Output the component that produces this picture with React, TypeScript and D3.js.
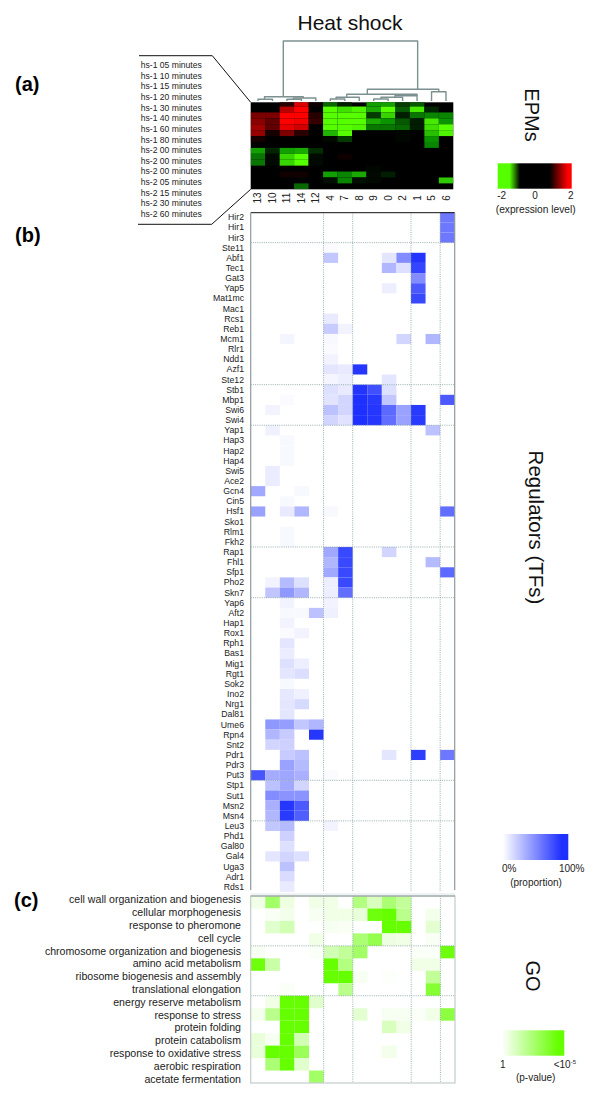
import React from "react";
import * as d3 from "d3";

const clusters = ["13", "10", "11", "14", "12", "4", "7", "8", "9", "0", "2", "1", "5", "6"];
const timeLabels = [
  "hs-1 05 minutes", "hs-1 10 minutes", "hs-1 15 minutes", "hs-1 20 minutes", "hs-1 30 minutes",
  "hs-1 40 minutes", "hs-1 60 minutes", "hs-1 80 minutes", "hs-2 00 minutes", "hs-2 00 minutes",
  "hs-2 00 minutes", "hs-2 05 minutes", "hs-2 15 minutes", "hs-2 30 minutes", "hs-2 60 minutes",
];
// expression level: + red, - green
const expression = [
  [0, 0, 0.3, 1.7, 0.1, -0.7, -0.2, 0, -1.1, -1.1, -0.4, -0.6, 0, 0],
  [0, 0, 1.4, 2, 0, -2, -1.7, -1.9, -1.2, -2, -0.6, -1.8, -0.24, 0],
  [0.9, 0.9, 2, 2, 0.3, -2, -2, -2, -0.4, -1.6, -0.2, -0.8, -0.9, -0.9],
  [1, 0.7, 2, 1.9, 0.4, -2, -2, -2, -1.2, -1, -0.6, -0.2, -1.8, -1],
  [1.2, 0.7, 1.8, 1.6, 0, -2, -2, -1.9, -0.8, -0.8, -0.7, -0.2, -1.7, -2],
  [1.1, 0.16, 0.9, 0.3, 0, -1.3, -2, 0, 0, 0, -0.05, 0, -1.4, -1.9],
  [0.16, 0, 0, 0, 0, -0.06, -0.4, 0, 0, 0, -0.05, 0, -1, 0],
  [0, 0, 0, 0, 0, 0, 0, 0, 0, 0, 0, 0, -0.9, 0],
  [-1.1, -0.24, -1.1, -1.2, -0.3, 0, 0, 0, 0, 0, 0, 0, 0, 0],
  [-0.8, -0.06, -1.6, -2, -0.06, 0, 0.1, 0, 0, 0, 0, 0, 0, 0],
  [-0.8, -0.06, -1.6, -2, -0.06, 0, 0, 0, 0, 0, 0, 0, 0, 0],
  [0, 0, 0, 0, 0, 0, 0, 0, -0.04, 0, 0, 0, 0, 0],
  [0, 0, 0.12, 0.12, 0, -1.1, -0.9, -1.2, -0.06, -0.2, 0, 0, 0, 0],
  [0, 0, 0, 0, 0, -0.1, -0.9, -0.1, -0.06, 0, 0, 0, 0, -1.5],
  [0, 0, 0, -0.7, 0, 0, 0, 0, 0, 0, 0, 0, 0, 0],
];
const regulators = [
  "Hir2", "Hir1", "Hir3", "Ste11", "Abf1", "Tec1", "Gat3", "Yap5", "Mat1mc", "Mac1", "Rcs1", "Reb1", "Mcm1", "Rlr1",
  "Ndd1", "Azf1", "Ste12", "Stb1", "Mbp1", "Swi6", "Swi4", "Yap1", "Hap3", "Hap2", "Hap4", "Swi5", "Ace2", "Gcn4",
  "Cin5", "Hsf1", "Sko1", "Rlm1", "Fkh2", "Rap1", "Fhl1", "Sfp1", "Pho2", "Skn7", "Yap6", "Aft2", "Hap1", "Rox1",
  "Rph1", "Bas1", "Mig1", "Rgt1", "Sok2", "Ino2", "Nrg1", "Dal81", "Ume6", "Rpn4", "Snt2", "Pdr1", "Pdr3", "Put3",
  "Stp1", "Sut1", "Msn2", "Msn4", "Leu3", "Phd1", "Gal80", "Gal4", "Uga3", "Adr1", "Rds1",
];
const regulatorValues = [
  [0, 0, 0, 0, 0, 0, 0, 0, 0, 0, 0, 0, 0, .65],
  [0, 0, 0, 0, 0, 0, 0, 0, 0, 0, 0, 0, 0, .65],
  [0, 0, 0, 0, 0, 0, 0, 0, 0, 0, 0, 0, 0, .65],
  [0, 0, 0, 0, 0, .02, 0, 0, 0, 0, 0, 0, 0, 0],
  [0, 0, 0, 0, 0, .27, 0, 0, 0, .12, .55, .98, 0, 0],
  [0, 0, 0, 0, 0, 0, 0, 0, 0, .35, .15, .9, 0, 0],
  [0, 0, 0, 0, 0, 0, 0, 0, 0, 0, 0, .55, 0, 0],
  [0, 0, 0, 0, 0, 0, 0, 0, 0, .08, 0, .8, 0, 0],
  [0, 0, 0, 0, 0, 0, 0, 0, 0, 0, 0, .88, 0, 0],
  [0, 0, 0, 0, 0, 0, 0, 0, 0, 0, 0, 0, 0, 0],
  [0, 0, 0, 0, 0, .1, 0, 0, 0, 0, 0, 0, 0, 0],
  [0, 0, 0, 0, 0, .25, .06, 0, 0, 0, 0, 0, 0, 0],
  [0, 0, .05, 0, 0, .03, 0, 0, 0, 0, .2, 0, .35, 0],
  [0, 0, 0, 0, 0, .02, 0, 0, 0, 0, 0, 0, 0, 0],
  [0, 0, 0, 0, 0, .06, 0, 0, 0, 0, 0, 0, 0, 0],
  [0, 0, 0, 0, 0, .12, .1, .97, 0, 0, 0, 0, 0, 0],
  [0, 0, 0, 0, 0, .05, .08, 0, 0, .12, 0, 0, 0, 0],
  [0, 0, 0, 0, 0, .15, .1, .98, .85, .15, 0, 0, 0, 0],
  [0, 0, .02, 0, 0, .13, .2, 1, .95, .27, 0, 0, 0, .8],
  [0, .06, 0, 0, 0, .3, .2, 1, .97, .72, .45, .95, 0, 0],
  [0, 0, 0, 0, 0, .2, .14, 1, .97, .7, .45, .95, 0, 0],
  [0, .07, 0, 0, 0, 0, 0, 0, 0, 0, 0, 0, .3, 0],
  [0, 0, .03, 0, 0, 0, 0, 0, 0, 0, 0, 0, 0, 0],
  [0, 0, .03, 0, 0, 0, 0, 0, 0, 0, 0, 0, 0, 0],
  [0, 0, .03, 0, 0, 0, 0, 0, 0, 0, 0, 0, 0, 0],
  [0, .09, 0, 0, 0, 0, 0, 0, 0, 0, 0, 0, 0, 0],
  [0, .09, 0, 0, 0, 0, 0, 0, 0, 0, 0, 0, 0, 0],
  [.42, 0, 0, .03, 0, 0, 0, 0, 0, 0, 0, 0, 0, 0],
  [0, 0, .03, 0, 0, 0, 0, 0, 0, 0, 0, 0, 0, 0],
  [.45, 0, .1, .35, 0, .03, 0, 0, 0, 0, 0, 0, 0, .7],
  [0, 0, 0, 0, 0, 0, 0, 0, 0, 0, 0, 0, 0, 0],
  [0, 0, .03, 0, 0, 0, 0, 0, 0, 0, 0, 0, 0, 0],
  [0, 0, .03, 0, 0, 0, 0, 0, 0, 0, 0, 0, 0, 0],
  [0, 0, 0, 0, 0, .42, .88, 0, 0, .2, 0, 0, 0, 0],
  [0, 0, 0, 0, 0, .35, .88, 0, 0, 0, 0, 0, .33, 0],
  [0, 0, 0, 0, 0, .42, .88, 0, 0, 0, 0, 0, 0, .72],
  [0, .06, .33, .15, 0, .08, .88, 0, 0, 0, 0, 0, 0, 0],
  [0, .28, .5, .35, 0, .08, .7, 0, 0, 0, 0, 0, 0, 0],
  [0, 0, .06, 0, 0, .06, 0, 0, 0, 0, 0, 0, 0, 0],
  [0, 0, .03, .03, .3, .07, 0, 0, 0, 0, 0, 0, 0, 0],
  [0, 0, .06, 0, 0, 0, 0, 0, 0, 0, 0, 0, 0, 0],
  [0, 0, .02, .06, 0, 0, 0, 0, 0, 0, 0, 0, 0, 0],
  [0, 0, .12, 0, 0, 0, 0, 0, 0, 0, 0, 0, 0, 0],
  [0, 0, .09, 0, 0, 0, 0, 0, 0, 0, 0, 0, 0, 0],
  [0, 0, .15, .08, 0, 0, 0, 0, 0, 0, 0, 0, 0, 0],
  [0, 0, .12, .16, 0, 0, 0, 0, 0, 0, 0, 0, 0, 0],
  [0, 0, .03, 0, 0, 0, 0, 0, 0, 0, 0, 0, 0, 0],
  [0, 0, .11, .07, 0, 0, 0, 0, 0, 0, 0, 0, 0, 0],
  [0, 0, .12, .18, 0, 0, 0, 0, 0, 0, 0, 0, 0, 0],
  [0, 0, .12, 0, 0, 0, 0, 0, 0, 0, 0, 0, 0, 0],
  [0, .5, .47, .27, .35, 0, 0, 0, 0, 0, 0, 0, 0, 0],
  [0, .35, .25, 0, .97, 0, 0, 0, 0, 0, 0, 0, 0, 0],
  [0, .2, .22, 0, 0, 0, 0, 0, 0, 0, 0, 0, 0, 0],
  [0, 0, .25, .3, 0, 0, 0, 0, 0, .12, 0, .93, 0, .65],
  [0, 0, .45, .33, 0, 0, 0, 0, 0, 0, 0, 0, 0, 0],
  [.82, .4, .43, .38, 0, .02, 0, 0, 0, 0, 0, 0, 0, 0],
  [0, .3, .42, .2, 0, 0, 0, 0, 0, 0, 0, 0, 0, 0],
  [0, .55, .52, .52, 0, 0, 0, 0, 0, 0, 0, 0, 0, 0],
  [0, .38, .97, .8, 0, 0, 0, 0, 0, 0, 0, 0, 0, 0],
  [0, .35, .95, .78, 0, 0, 0, 0, 0, 0, 0, 0, 0, 0],
  [0, .27, .33, 0, 0, .06, 0, 0, 0, 0, 0, 0, 0, 0],
  [0, 0, .22, 0, 0, 0, 0, 0, 0, 0, 0, 0, 0, 0],
  [0, 0, .15, 0, 0, 0, 0, 0, 0, 0, 0, 0, 0, 0],
  [0, .12, .2, .15, 0, 0, 0, 0, 0, 0, 0, 0, 0, 0],
  [0, 0, .3, 0, 0, 0, 0, 0, 0, 0, 0, 0, 0, 0],
  [0, 0, .17, 0, 0, 0, 0, 0, 0, 0, 0, 0, 0, 0],
  [0, 0, .1, 0, 0, 0, 0, 0, 0, 0, 0, 0, 0, 0],
];
const goTerms = [
  "cell wall organization and biogenesis", "cellular morphogenesis", "response to pheromone", "cell cycle",
  "chromosome organization and biogenesis", "amino acid metabolism", "ribosome biogenesis and assembly",
  "translational elongation", "energy reserve metabolism", "response to stress", "protein folding",
  "protein catabolism", "response to oxidative stress", "aerobic respiration", "acetate fermentation",
];
const goValues = [
  [.1, .6, .12, 0, .1, .1, 0, .5, .25, .55, .4, 0, 0, 0],
  [0, .04, .08, 0, .05, .1, .1, .15, .95, 1, .45, 0, .08, 0],
  [0, .2, .3, 0, 0, .05, .04, 0, 0, 1, 1, 0, .18, 0],
  [0, 0, 0, 0, .1, 0, 0, .55, .7, .12, .1, 0, .04, 0],
  [.05, 0, 0, 0, .03, .3, .4, .6, 0, 0, 0, .03, .03, .95],
  [.95, .35, 0, 0, 0, 1, .5, 0, 0, 0, 0, .1, .1, 0],
  [0, 0, 0, 0, 0, 1, 1, .05, 0, .02, 0, 0, .4, 0],
  [0, 0, .03, 0, 0, 0, .45, 0, 0, 0, 0, 0, .8, 0],
  [0, .1, 1, 1, .2, 0, 0, 0, 0, 0, 0, 0, 0, 0],
  [.07, .45, 1, 1, 0, 0, 0, .18, 0, .05, .05, .03, .1, .75],
  [0, 0, 1, 1, 0, 0, 0, 0, 0, .25, .1, 0, 0, 0],
  [.15, .05, 1, .3, 0, 0, 0, 0, 0, 0, 0, 0, 0, 0],
  [.15, 1, 1, .65, 0, 0, 0, 0, 0, .08, 0, 0, 0, 0],
  [0, .55, 1, .2, 0, 0, 0, 0, 0, 0, 0, 0, 0, 0],
  [0, 0, 0, 0, .6, 0, 0, 0, 0, 0, 0, 0, 0, 0],
];
const clusterBreaks = [5, 7, 11, 13];
const regulatorBreaks = [3, 17, 21, 33, 38, 56, 60];
const goBreaks = [4, 8];

type Node = { pos: number; h: number; children?: Node[] };
const leaf = (pos: number): Node => ({ pos, h: 0 });
// pos: where the node meets its parent, along the cluster columns; h: merge height
const dendrogram: Node = {
  pos: 7, h: 60, children: [
    {
      pos: 1.75, h: 4.3, children: [
        { pos: 0.45, h: 1.7, children: [leaf(0), leaf(1)] },
        { pos: 3.13, h: 3, children: [{ pos: 2.45, h: 1.7, children: [leaf(2), leaf(3)] }, leaf(4)] },
      ],
    },
    {
      pos: 11.04, h: 11.7, children: [
        {
          pos: 7.56, h: 6.7, children: [
            { pos: 6.14, h: 3.7, children: [{ pos: 5.4, h: 2, children: [leaf(5), leaf(6)] }, leaf(7)] },
            {
              pos: 11, h: 5.3, children: [
                { pos: 9.47, h: 3.7, children: [{ pos: 8.5, h: 2, children: [leaf(8), leaf(9)] }, leaf(10)] },
                leaf(11),
              ],
            },
          ],
        },
        { pos: 12.5, h: 9.3, children: [leaf(12), leaf(13)] },
      ],
    },
  ],
};

const F = "'Liberation Sans', Arial, sans-serif";
const INK = "#222";
const DOT = "#7f9a9a";

const heatX = d3.scaleBand<number>().domain(d3.range(14)).range([250.7, 453.3]);
const heatY = d3.scaleBand<number>().domain(d3.range(15)).range([100.6, 189.3]);
const regX = d3.scaleBand<number>().domain(d3.range(14)).range([250.7, 454.7]);
const regY = d3.scaleBand<number>().domain(d3.range(67)).range([212.2, 891.9]);
const goX = d3.scaleBand<number>().domain(d3.range(14)).range([250.7, 455]);
const goY = d3.scaleBand<number>().domain(d3.range(15)).range([896, 1083]);
const goLabelY = d3.scalePoint<number>().domain(d3.range(15)).range([899.3, 1078.7]);
const timeY = d3.scalePoint<number>().domain(d3.range(15)).range([65, 214]);
const dendX = d3.scaleLinear().domain([0, 13]).range([258, 446]);
const dendY = d3.scaleLinear().domain([0, 60]).range([101, 41]);

const exprColor = d3
  .scaleLinear<string>()
  .domain([-2, -1, 0, 1, 2])
  .range(["#55ff00", "#0a9400", "#000000", "#8a0000", "#ff0000"])
  .clamp(true);
const blueColor = d3.scaleLinear<string>().domain([0, 1]).range(["#ffffff", "#1e30ff"]);
const greenColor = d3.scaleLinear<string>().domain([0, 1]).range(["#ffffff", "#66ff00"]);

function Cells({ values, x, y, color }: any) {
  return (
    <g>
      {values.flatMap((row: number[], r: number) =>
        row.map((v, c) =>
          v === 0 ? null : (
            <rect key={r + "-" + c} x={x(c)} y={y(r)} width={x.bandwidth()} height={y.bandwidth()} fill={color(v)} />
          )
        )
      )}
    </g>
  );
}

function Breaks({ x, y, breaks }: any) {
  const [x0, x1] = x.range();
  const [y0, y1] = y.range();
  return (
    <g stroke={DOT} strokeWidth={0.8} strokeDasharray="1 1.2" fill="none">
      {clusterBreaks.map((b) => (
        <line key={"v" + b} x1={x(b)} x2={x(b)} y1={y0} y2={y1} />
      ))}
      {breaks.map((b: number) => (
        <line key={"h" + b} x1={x0} x2={x1} y1={y(b)} y2={y(b)} />
      ))}
    </g>
  );
}

function Dendrogram() {
  const root = d3.hierarchy(dendrogram);
  const parents = root.descendants().filter((n) => n.children);
  return (
    <g stroke="#7c9090" strokeWidth={1.4} fill="none" strokeLinejoin="round">
      {parents.map((n, i) => {
        const [a, b] = n.children!;
        const top = dendY(n.data.h);
        return (
          <path
            key={i}
            d={`M${dendX(a.data.pos)},${dendY(a.data.h)}V${top}H${dendX(b.data.pos)}V${dendY(b.data.h)}`}
          />
        );
      })}
    </g>
  );
}

const SideTitle = ({ x, y, text, size = 20 }: { x: number; y: number; text: string; size?: number }) => (
  <text transform={`translate(${x},${y}) rotate(90)`} textAnchor="middle" fontSize={size} fill="#111" dominantBaseline="central">
    {text}
  </text>
);

export default function App() {
  const exprStops = [-2, -1.35, -0.8, 0.8, 1.8, 2];
  const legendStop = (v: number) =>
    v <= -1.35 ? "#55ff00" : v === -0.8 || v === 0.8 ? "#000000" : "#ff0000";
  return (
    <svg
      width={600}
      height={1099}
      viewBox="0 0 600 1099"
      style={{ position: "absolute", left: 0, top: 0, display: "block", background: "#fff" }}
      fontFamily={F}
    >
      <defs>
        <linearGradient id="exprGrad">
          {exprStops.map((v) => (
            <stop key={v} offset={(v + 2) / 4} stopColor={legendStop(v)} />
          ))}
        </linearGradient>
        <linearGradient id="blueGrad">
          <stop offset={0.03} stopColor={blueColor(0)} />
          <stop offset={0.9} stopColor={blueColor(1)} />
        </linearGradient>
        <linearGradient id="greenGrad">
          <stop offset={0} stopColor={greenColor(0)} />
          <stop offset={0.9} stopColor={greenColor(1)} />
        </linearGradient>
        <clipPath id="heatClip">
          <rect x={250.7} y={102.3} width={202.6} height={87} />
        </clipPath>
      </defs>

      <text x={350} y={30} textAnchor="middle" fontSize={21} fill="#111">Heat shock</text>
      <text x={15} y={91} fontSize={20} fontWeight="bold" fill="#000">(a)</text>
      <text x={15} y={242} fontSize={20} fontWeight="bold" fill="#000">(b)</text>
      <text x={14} y={907} fontSize={20} fontWeight="bold" fill="#000">(c)</text>

      <Dendrogram />

      {/* time labels and bracket */}
      <g fontSize={8.6} fill={INK} dominantBaseline="central">
        {timeLabels.map((t, i) => (
          <text key={i} x={140.7} y={timeY(i)}>{t}</text>
        ))}
      </g>
      <path d="M139,55.7H212.3L250.7,102.3M138,224.3H211.7L250.7,189.3" fill="none" stroke="#111" strokeWidth={1} />

      {/* EPM heat map */}
      <rect x={250.7} y={102.3} width={202.6} height={87} fill="#000" />
      <g clipPath="url(#heatClip)">
        <Cells values={expression} x={heatX} y={heatY} color={exprColor} />
      </g>
      <g fontSize={10} fill={INK}>
        {clusters.map((c, i) => (
          <text
            key={c}
            transform={`translate(${heatX(i)! + heatX.bandwidth() / 2},198) rotate(-90)`}
            textAnchor="middle"
            dominantBaseline="central"
          >
            {c}
          </text>
        ))}
      </g>

      {/* regulators */}
      <Cells values={regulatorValues} x={regX} y={regY} color={blueColor} />
      <Breaks x={regX} y={regY} breaks={regulatorBreaks} />
      <line x1={250.7} x2={454.7} y1={212.7} y2={212.7} stroke="#111" strokeWidth={1} />
      <line x1={250.7} x2={250.7} y1={212.7} y2={890} stroke="#8f9a9a" strokeWidth={1.2} />
      <line x1={454.7} x2={454.7} y1={212.7} y2={890} stroke="#8f9a9a" strokeWidth={1.2} />
      <line x1={250.7} x2={455} y1={894} y2={894} stroke="#dfe6e6" strokeWidth={1} />
      <g fontSize={8.7} fill={INK} textAnchor="end" dominantBaseline="central">
        {regulators.map((r, i) => (
          <text key={r} x={244} y={regY(i)! + regY.bandwidth() / 2}>{r}</text>
        ))}
      </g>

      {/* GO */}
      <Cells values={goValues} x={goX} y={goY} color={greenColor} />
      <Breaks x={goX} y={goY} breaks={goBreaks} />
      <rect x={250.7} y={896} width={204.3} height={187} fill="none" stroke="#c4cccc" strokeWidth={1.2} />
      <line x1={250.7} x2={455} y1={896} y2={896} stroke="#8f9a9a" strokeWidth={1} />
      <g fontSize={10.6} fill={INK} textAnchor="end" dominantBaseline="central">
        {goTerms.map((t, i) => (
          <text key={t} x={241} y={goLabelY(i)}>{t}</text>
        ))}
      </g>

      {/* side titles */}
      <SideTitle x={531.7} y={115} text="EPMs" />
      <SideTitle x={536.5} y={527.5} size={20.5} text="Regulators (TFs)" />
      <SideTitle x={533} y={976} text="GO" />

      {/* legends */}
      <rect x={497.7} y={163.3} width={74} height={25.4} fill="url(#exprGrad)" />
      <g fontSize={10} fill={INK} textAnchor="middle">
        <text x={501.7} y={199.3}>-2</text>
        <text x={535} y={199.3}>0</text>
        <text x={570.7} y={199.3}>2</text>
        <text x={535.7} y={213} fontSize={10.2}>(expression level)</text>
      </g>
      <rect x={500.7} y={834} width={67.6} height={26} fill="url(#blueGrad)" />
      <g fontSize={10} fill={INK} textAnchor="middle">
        <text x={509.3} y={871.7}>0%</text>
        <text x={571.7} y={871.7}>100%</text>
        <text x={536} y={885.7}>(proportion)</text>
      </g>
      <rect x={501.7} y={1030.3} width={62.6} height={25.4} fill="url(#greenGrad)" />
      <g fontSize={10} fill={INK} textAnchor="middle">
        <text x={502.7} y={1067.7}>1</text>
        <text x={576} y={1067.7} textAnchor="end">
          {"<10"}
          <tspan fontSize={6} dy={-3.5}>-5</tspan>
        </text>
        <text x={535.7} y={1080.7}>(p-value)</text>
      </g>
    </svg>
  );
}
